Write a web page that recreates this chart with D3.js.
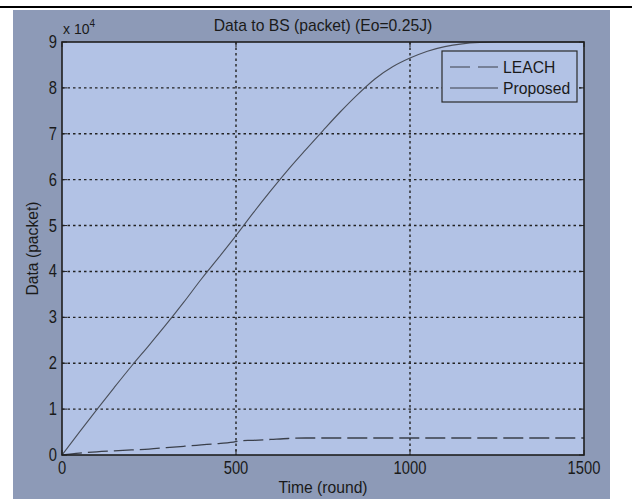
<!DOCTYPE html>
<html>
<head>
<meta charset="utf-8">
<script src="https://cdn.jsdelivr.net/npm/d3@7"></script>
<style>
  body { margin: 0; background: #fff; }
  svg text { font-family: "Liberation Sans", Arial, sans-serif; fill: #1a1a1a; }
  .tick-lbl { font-size: 18px; }
</style>
</head>
<body>
<svg id="chart"></svg>
<script>
// rounds sampled every 50
const rounds = [0, 50, 100, 150, 200, 250, 300, 350, 400, 450, 500, 550, 600, 650, 700, 750,
  800, 850, 900, 950, 1000, 1050, 1100, 1150, 1200, 1250, 1300, 1350, 1400, 1450, 1500];
// data to BS, units of 1e4 packets
const proposed = [0, 0.5, 0.99, 1.47, 1.94, 2.39, 2.85, 3.33, 3.83, 4.3, 4.78, 5.28, 5.76, 6.22, 6.65, 7.07,
  7.48, 7.86, 8.2, 8.46, 8.65, 8.8, 8.9, 8.96, 8.99, 9.0, 9.0, 9.0, 9.0, 9.0, 9.0];
const leachRounds = [0, 50, 100, 150, 200, 250, 300, 350, 400, 450, 499, 510, 550, 600, 650, 700, 800, 1000, 1200, 1500];
const leach = [0, 0.04, 0.07, 0.09, 0.11, 0.13, 0.16, 0.19, 0.22, 0.25, 0.29, 0.31, 0.32, 0.34, 0.36, 0.37, 0.37, 0.37, 0.37, 0.37];
const xTicks = [0, 500, 1000, 1500];
const yTicks = [0, 1, 2, 3, 4, 5, 6, 7, 8, 9];

const W = 632, H = 499;
const margin = {top: 42, right: 48, bottom: 44, left: 62};
const pw = W - margin.left - margin.right, ph = H - margin.top - margin.bottom;

const svg = d3.select('#chart').attr('width', W).attr('height', H);

// figure background + top rule
svg.append('rect').attr('x', 13).attr('y', 10).attr('width', 597).attr('height', H - 10).attr('fill', '#8d9ab7');
svg.append('rect').attr('x', 0).attr('y', 6).attr('width', W).attr('height', 2).attr('fill', '#000');

const x = d3.scaleLinear().domain([0, 1500]).range([0, pw]);
const y = d3.scaleLinear().domain([0, 9]).range([ph, 0]);

const g = svg.append('g').attr('transform', 'translate(' + margin.left + ',' + margin.top + ')');

g.append('rect').attr('width', pw).attr('height', ph).attr('fill', '#b2c2e5');

// grid
g.selectAll('.gx').data(xTicks.slice(1, -1)).enter().append('line')
  .attr('x1', d => x(d)).attr('x2', d => x(d)).attr('y1', 0).attr('y2', ph)
  .attr('stroke', '#222').attr('stroke-width', 1.4).attr('stroke-dasharray', '2.5,3');
g.selectAll('.gy').data(yTicks.slice(1, -1)).enter().append('line')
  .attr('y1', d => y(d)).attr('y2', d => y(d)).attr('x1', 0).attr('x2', pw)
  .attr('stroke', '#222').attr('stroke-width', 1.4).attr('stroke-dasharray', '2.5,3');

// inward ticks on all four sides
const tl = 5;
xTicks.forEach(function(d) {
  g.append('line').attr('x1', x(d)).attr('x2', x(d)).attr('y1', ph).attr('y2', ph - tl).attr('stroke', '#222');
  g.append('line').attr('x1', x(d)).attr('x2', x(d)).attr('y1', 0).attr('y2', tl).attr('stroke', '#222');
});
yTicks.forEach(function(d) {
  g.append('line').attr('x1', 0).attr('x2', tl).attr('y1', y(d)).attr('y2', y(d)).attr('stroke', '#222');
  g.append('line').attr('x1', pw).attr('x2', pw - tl).attr('y1', y(d)).attr('y2', y(d)).attr('stroke', '#222');
});

// series
const line = d3.line().x(d => x(d[0])).y(d => y(d[1])).curve(d3.curveMonotoneX);
g.append('path').datum(d3.zip(leachRounds, leach)).attr('d', line)
  .attr('fill', 'none').attr('stroke', '#3a3f4a').attr('stroke-width', 1.3).attr('stroke-dasharray', '20,6');
g.append('path').datum(d3.zip(rounds, proposed)).attr('d', line)
  .attr('fill', 'none').attr('stroke', '#4a4f5a').attr('stroke-width', 1.1);

// axes box
g.append('rect').attr('width', pw).attr('height', ph).attr('fill', 'none').attr('stroke', '#1e1e1e').attr('stroke-width', 1.6);

// tick labels (narrow digits, squeezed horizontally)
g.selectAll('.xl').data(xTicks).enter().append('text').attr('class', 'tick-lbl')
  .attr('transform', d => 'translate(' + x(d) + ',' + (ph + 19) + ') scale(0.82,1)')
  .attr('text-anchor', 'middle').text(d => d);
g.selectAll('.yl').data(yTicks).enter().append('text').attr('class', 'tick-lbl')
  .attr('transform', d => 'translate(-5,' + (y(d) + 6) + ') scale(0.82,1)')
  .attr('text-anchor', 'end').text(d => d);

// exponent
const ex = g.append('text').attr('x', 1).attr('y', -8).style('font-size', '14px');
ex.append('tspan').text('x 10');
ex.append('tspan').attr('dy', -7).style('font-size', '10px').text('4');

// title and axis labels
svg.append('text').attr('x', margin.left + pw / 2).attr('y', 31).attr('text-anchor', 'middle')
  .style('font-size', '15.7px').text('Data to BS (packet) (Eo=0.25J)');
svg.append('text').attr('x', margin.left + pw / 2).attr('y', 493).attr('text-anchor', 'middle')
  .style('font-size', '15.7px').text('Time (round)');
svg.append('text').attr('transform', 'translate(38,' + (margin.top + ph / 2) + ') rotate(-90)')
  .attr('text-anchor', 'middle').style('font-size', '15.7px').text('Data (packet)');

// legend
const lg = svg.append('g').attr('transform', 'translate(442,51)');
lg.append('rect').attr('width', 135).attr('height', 51).attr('fill', '#b2c2e5').attr('stroke', '#2a2a2a').attr('stroke-width', 1.2);
const items = [{name: 'LEACH', dash: '20,8'}, {name: 'Proposed', dash: null}];
items.forEach(function(it, i) {
  const yy = 16 + i * 21;
  lg.append('line').attr('x1', 8).attr('x2', 56).attr('y1', yy).attr('y2', yy)
    .attr('stroke', '#3a3f4a').attr('stroke-width', 1.2).attr('stroke-dasharray', it.dash);
  lg.append('text').attr('x', 61).attr('y', yy + 6).style('font-size', '15.7px').text(it.name);
});
</script>
</body>
</html>
